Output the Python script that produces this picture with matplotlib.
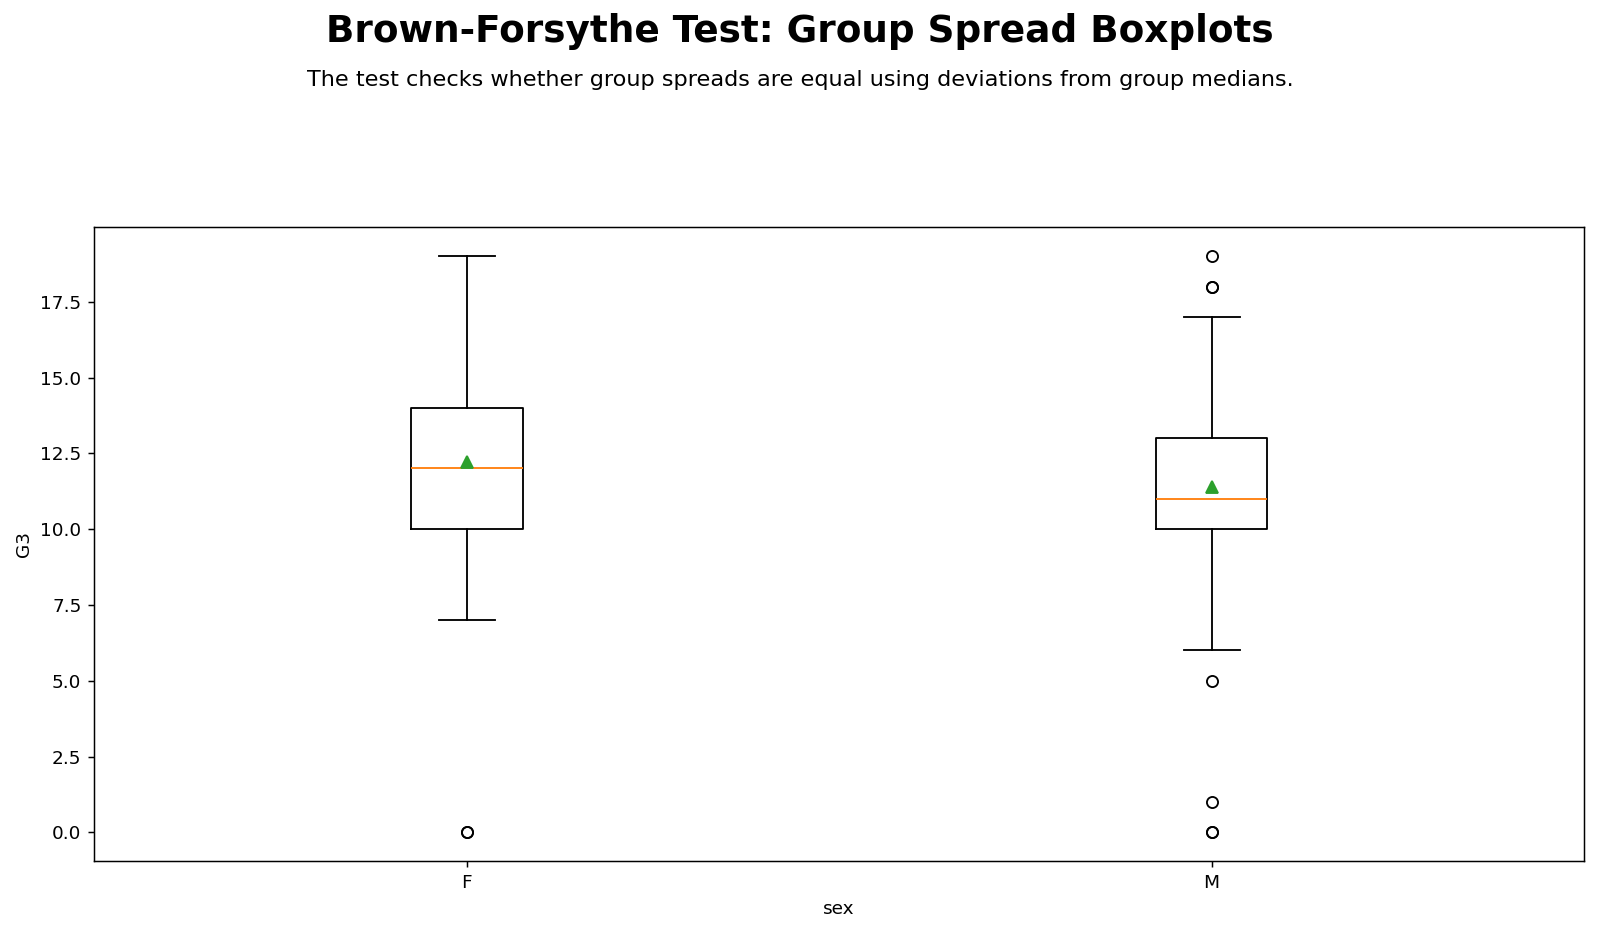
import matplotlib
matplotlib.use("Agg")
import matplotlib.pyplot as plt

# five-number summaries
groups = ["F", "M"]
whisker_low = [7, 6]
q1 = [10, 10]
medians = [12, 11]
q3 = [14, 13]
whisker_high = [19, 17]
means = [12.23, 11.4]
outliers = [[0, 0], [19, 18, 18, 5, 1, 0, 0]]

stats = []
for i, g in enumerate(groups):
    stats.append({
        "label": g,
        "whislo": whisker_low[i],
        "q1": q1[i],
        "med": medians[i],
        "q3": q3[i],
        "whishi": whisker_high[i],
        "mean": means[i],
        "fliers": outliers[i],
    })

dpi = 1600 / 12
fig = plt.figure(figsize=(12, 932 / dpi), dpi=dpi)
ax = fig.add_axes([0.059, 0.076, 0.931, 0.68])
ax.bxp(stats, showmeans=True)

ax.set_xlabel("sex")
ax.set_ylabel("G3")

fig.text(0.5, 0.966, "Brown-Forsythe Test: Group Spread Boxplots", fontsize=20.2,
         fontweight="bold", ha="center", va="center")
fig.text(0.5, 0.914, "The test checks whether group spreads are equal using deviations from group medians.",
         ha="center", va="center", fontsize=12.1)

fig.savefig("out.png", dpi=dpi)
